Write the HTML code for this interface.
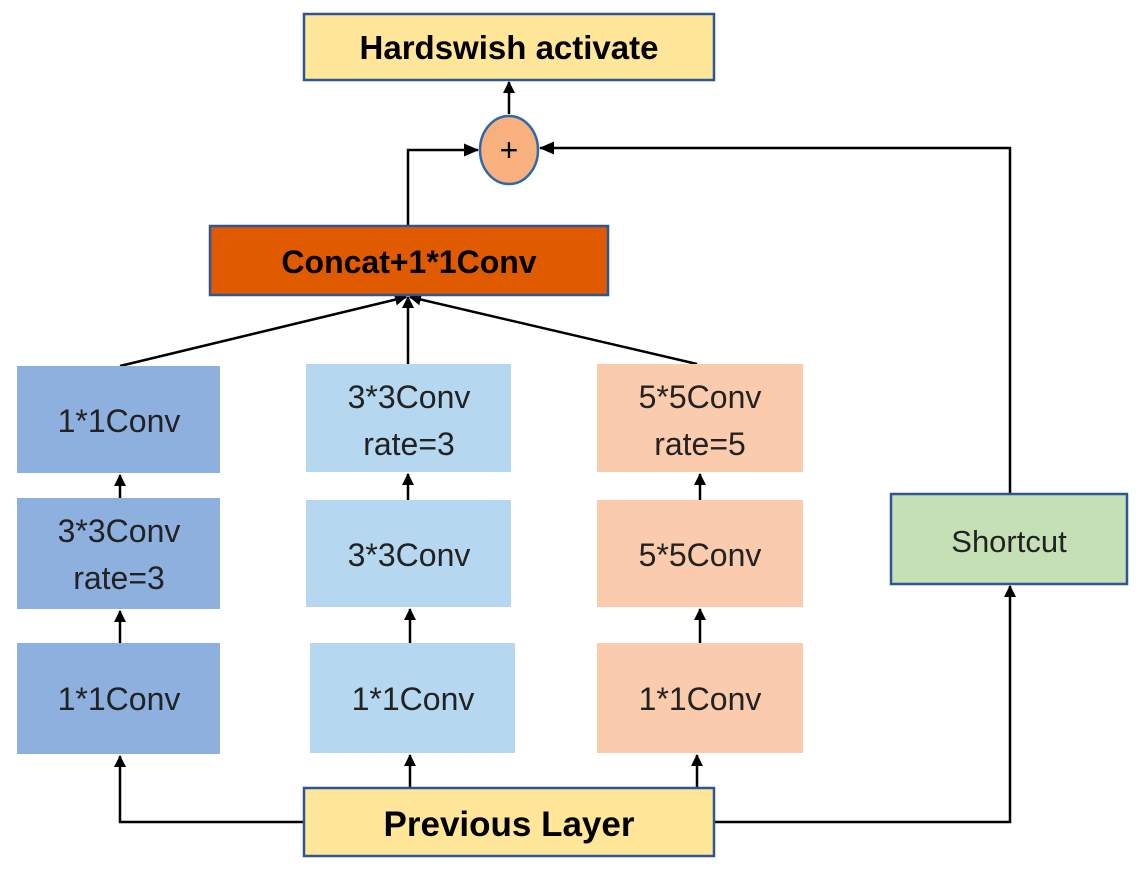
<!DOCTYPE html><html><head><style>body{margin:0;background:#fff}</style></head><body>
<svg width="1142" height="871" xmlns="http://www.w3.org/2000/svg" font-family="Liberation Sans, DejaVu Sans, sans-serif">
<defs><marker id="a" markerWidth="12" markerHeight="12" refX="11" refY="6" orient="auto" markerUnits="userSpaceOnUse"><path d="M0,0 L12,6 L0,12 z" fill="#000"/></marker>
<marker id="b" markerWidth="15" markerHeight="13" refX="14" refY="6.5" orient="auto" markerUnits="userSpaceOnUse"><path d="M0,0 L15,6.5 L0,13 z" fill="#000"/></marker></defs>
<g stroke="#000" stroke-width="2.5" fill="none">
<path d="M509,114 V82" marker-end="url(#a)"/>
<path d="M408,226 V150 H478" marker-end="url(#b)"/>
<path d="M1010,494 V148 H540" marker-end="url(#b)"/>
<path d="M304,822 H120 V756" marker-end="url(#a)"/>
<path d="M714,822 H1010 V586" marker-end="url(#a)"/>
<path d="M410,788 V755" marker-end="url(#a)"/>
<path d="M697,788 V755" marker-end="url(#a)"/>
<path d="M120,643 V611" marker-end="url(#a)"/>
<path d="M120,498 V475" marker-end="url(#a)"/>
<path d="M410,643 V609" marker-end="url(#a)"/>
<path d="M408,500 V474" marker-end="url(#a)"/>
<path d="M700,643 V609" marker-end="url(#a)"/>
<path d="M700,500 V474" marker-end="url(#a)"/>
<path d="M120,366 L406,297" marker-end="url(#a)"/>
<path d="M408,364 V297" marker-end="url(#a)"/>
<path d="M697,364 L410,297" marker-end="url(#a)"/>
</g>
<rect x="304" y="14" width="410" height="66" fill="#FFE699" stroke="#2F5597" stroke-width="2.5"/>
<text x="509" y="59" text-anchor="middle" font-size="33" font-weight="bold">Hardswish activate</text>
<ellipse cx="509" cy="150" rx="29" ry="34" fill="#F8B07E" stroke="#2E68A6" stroke-width="2.5"/>
<text x="509" y="161" text-anchor="middle" font-size="32">+</text>
<rect x="210" y="226" width="398" height="69" fill="#E05A00" stroke="#2F5597" stroke-width="2.5"/>
<text x="409" y="273" text-anchor="middle" font-size="32" font-weight="bold">Concat+1*1Conv</text>
<g fill="#8EB0DF"><rect x="17" y="366" width="203" height="107"/><rect x="17" y="498" width="203" height="111"/><rect x="17" y="643" width="203" height="111"/></g>
<g fill="#B6D7F0"><rect x="306" y="364" width="205" height="108"/><rect x="306" y="500" width="205" height="107"/><rect x="310" y="643" width="205" height="110"/></g>
<g fill="#FACBAD"><rect x="597" y="364" width="206" height="108"/><rect x="597" y="500" width="206" height="107"/><rect x="597" y="643" width="206" height="110"/></g>
<g font-size="32" text-anchor="middle" fill="#222">
<text x="119" y="432">1*1Conv</text>
<text x="119" y="542">3*3Conv</text><text x="119" y="589">rate=3</text>
<text x="119" y="710">1*1Conv</text>
<text x="409" y="408">3*3Conv</text><text x="409" y="455">rate=3</text>
<text x="409" y="566">3*3Conv</text>
<text x="413" y="710">1*1Conv</text>
<text x="700" y="408">5*5Conv</text><text x="700" y="455">rate=5</text>
<text x="700" y="566">5*5Conv</text>
<text x="700" y="710">1*1Conv</text>
</g>
<rect x="891" y="494" width="236" height="90" fill="#C5E0B4" stroke="#2F5597" stroke-width="2.5"/>
<text x="1009" y="552" text-anchor="middle" font-size="31" fill="#222">Shortcut</text>
<rect x="304" y="788" width="410" height="68" fill="#FFE699" stroke="#2F5597" stroke-width="2.5"/>
<text x="509" y="836" text-anchor="middle" font-size="35" font-weight="bold">Previous Layer</text>
</svg></body></html>
